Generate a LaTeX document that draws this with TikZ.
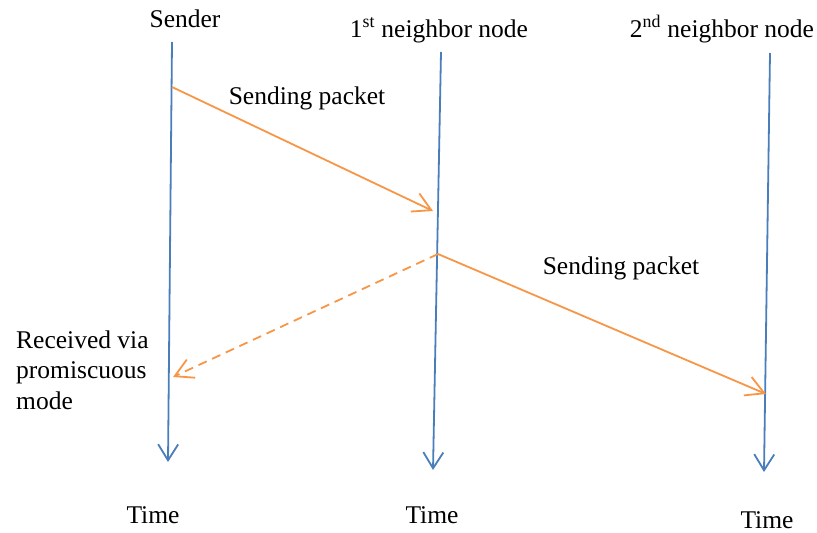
\documentclass[tikz,border=0pt]{standalone}
\usepackage{fontspec}
\setmainfont{Liberation Serif}
\usetikzlibrary{arrows.meta, positioning}
\definecolor{lineblue}{HTML}{4A7EBB}
\definecolor{msgorange}{HTML}{F79646}

\begin{document}
\begin{tikzpicture}[x=1pt, y=-1pt, every node/.style={font=\fontsize{25.5}{30.5}\selectfont, inner sep=0pt, anchor=base},
  timeline/.style={draw=lineblue, line width=1.8pt, -{Straight Barb[length=16pt, width=20pt]}},
  packet/.style={draw=msgorange, line width=1.8pt, -{Straight Barb[length=18pt, width=20pt]}}]
  \useasboundingbox (0,0) rectangle (817,533);
  % headers
  \node (sender) at (185,27) {Sender};
  \node (nb1) at (439,37) {1\textsuperscript{st} neighbor node};
  \node (nb2) at (722,37) {2\textsuperscript{nd} neighbor node};
  % time lines
  \coordinate (s0) at (172,42);
  \coordinate (s1) at (168,462);
  \coordinate (a0) at (441,52);
  \coordinate (a1) at (433,470);
  \coordinate (b0) at (770,53);
  \coordinate (b1) at (764,472);
  \draw[timeline] (s0) -- (s1);
  \draw[timeline] (a0) -- (a1);
  \draw[timeline] (b0) -- (b1);
  \node (t1) at (153,523) {Time};
  \node (t2) at (432,523) {Time};
  \node (t3) at (767,528) {Time};
  % packets
  \coordinate (p0) at (172,87);
  \coordinate (p1) at (433,211);
  \coordinate (p2) at (438,254);
  \coordinate (p3) at (766,394);
  \coordinate (p4) at (173,377);
  \draw[packet] (p0) -- (p1);
  \draw[packet] (p2) -- (p3);
  \draw[packet, dash pattern=on 9pt off 6pt] (p2) -- (p4);
  \node (send1) at (307,104) {Sending packet};
  \node (send2) at (621,274) {Sending packet};
  \node[anchor=base west, align=left] (recv) at (16,409) {Received via\\promiscuous\\mode};
\end{tikzpicture}
\end{document}
